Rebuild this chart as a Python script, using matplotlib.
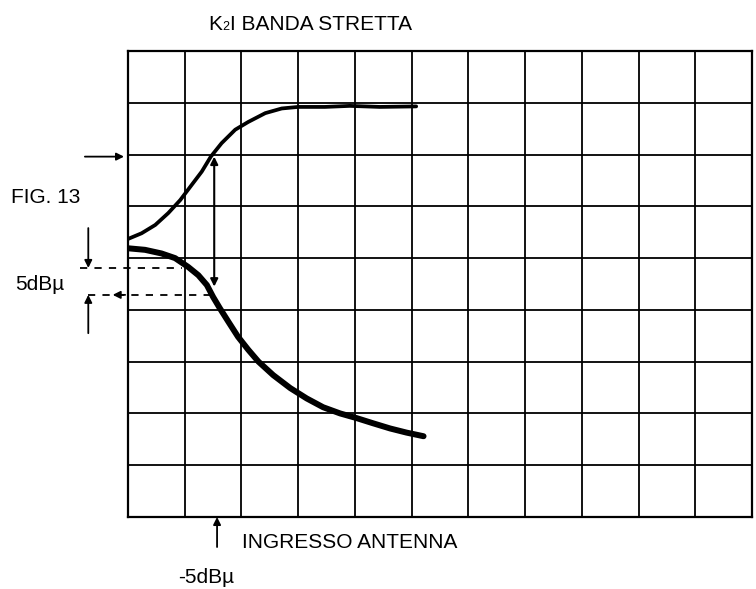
import matplotlib
matplotlib.use("Agg")
import matplotlib.pyplot as plt
from matplotlib.offsetbox import TextArea, HPacker, AnchoredOffsetbox

plt.rcParams['font.family'] = ['Liberation Sans', 'DejaVu Sans']

# ---- data (grid units: 11 columns x 9 rows) ----
n_cols = 11
n_rows = 9

upper_x = [0.0, 0.24, 0.48, 0.71, 0.92, 1.12, 1.30, 1.46, 1.65, 1.89, 2.12, 2.42, 2.71,
           3.00, 3.47, 3.91, 4.44, 5.08]
upper_y = [5.37, 5.48, 5.64, 5.87, 6.12, 6.41, 6.67, 6.96, 7.22, 7.48, 7.63, 7.80, 7.89,
           7.92, 7.92, 7.94, 7.92, 7.93]

lower_x = [0.0, 0.30, 0.59, 0.83, 1.06, 1.24, 1.39, 1.50, 1.62, 1.77, 1.94, 2.12, 2.30,
           2.56, 2.86, 3.15, 3.44, 3.74, 4.03, 4.32, 4.62, 4.91, 5.21]
lower_y = [5.19, 5.16, 5.09, 5.00, 4.83, 4.67, 4.48, 4.25, 4.03, 3.77, 3.48, 3.23, 3.00,
           2.74, 2.49, 2.29, 2.12, 2.00, 1.91, 1.81, 1.71, 1.63, 1.56]

ref_level_upper = 6.96      # right-pointing marker level
dash_level_1 = 4.81         # first dashed reference
dash_level_2 = 4.29         # second dashed reference
measure_x = 1.52            # vertical double arrow position
antenna_x = 1.57            # -5dBu input marker
side_x = -0.70              # x of the 5dBu bracket arrows

title_main = "I BANDA STRETTA"
fig_label = "FIG. 13"
step_label = "5dB\u00b5"
xlabel = "INGRESSO ANTENNA"
input_label = "-5dB\u00b5"

# ---- figure ----
W, H = 756, 589
fig = plt.figure(figsize=(W / 100, H / 100), dpi=100)
left_px, right_px, top_px, bottom_px = 128, 752, 51, 517
ax = fig.add_axes([left_px / W, 1 - bottom_px / H,
                   (right_px - left_px) / W, (bottom_px - top_px) / H])
ax.set_xlim(0, n_cols)
ax.set_ylim(0, n_rows)
ax.set_xticks([])
ax.set_yticks([])
for s in ax.spines.values():
    s.set_linewidth(1.6)
    s.set_color('black')

for i in range(1, n_cols):
    ax.axvline(i, color='black', lw=1.3, zorder=1)
for j in range(1, n_rows):
    ax.axhline(j, color='black', lw=1.3, zorder=1)

ax.plot(upper_x, upper_y, color='black', lw=2.7, solid_capstyle='round',
        solid_joinstyle='round', zorder=3)
ax.plot(lower_x, lower_y, color='black', lw=4.3, solid_capstyle='round',
        solid_joinstyle='round', zorder=3)

# dashed reference lines
ax.plot([-0.85, 0.95], [dash_level_1, dash_level_1], color='black', lw=1.3,
        ls=(0, (4, 4)), clip_on=False, zorder=2)
ax.plot([side_x, 1.45], [dash_level_2, dash_level_2], color='black', lw=1.3,
        ls=(0, (4, 4)), clip_on=False, zorder=2)

ap = dict(arrowstyle='-|>', color='black', lw=1.3, mutation_scale=11,
          shrinkA=0, shrinkB=0)
# right-pointing arrow at ref level
ax.annotate('', xy=(-0.07, ref_level_upper), xytext=(-0.76, ref_level_upper),
            arrowprops=ap, annotation_clip=False)
# 5dBu bracket arrows
ax.annotate('', xy=(side_x, dash_level_1), xytext=(side_x, 5.58),
            arrowprops=ap, annotation_clip=False)
ax.annotate('', xy=(side_x, dash_level_2), xytext=(side_x, 3.55),
            arrowprops=ap, annotation_clip=False)
ax.annotate('', xy=(-0.27, dash_level_2), xytext=(-0.05, dash_level_2),
            arrowprops=ap, annotation_clip=False)
# vertical double arrow between curves
ax.annotate('', xy=(measure_x, 4.45), xytext=(measure_x, ref_level_upper),
            arrowprops=dict(arrowstyle='<|-|>', color='black', lw=1.5,
                            mutation_scale=11, shrinkA=0, shrinkB=0),
            annotation_clip=False)
# input marker below the axis
ax.annotate('', xy=(antenna_x, 0.0), xytext=(antenna_x, -0.58),
            arrowprops=ap, annotation_clip=False)

# ---- texts ----
fs = 15
title_box = HPacker(children=[TextArea("K", textprops=dict(size=fs)),
                              TextArea("2", textprops=dict(size=9)),
                              TextArea(title_main, textprops=dict(size=fs))],
                    align="baseline", pad=0, sep=0)
anch = AnchoredOffsetbox(loc='center', child=title_box, pad=0, frameon=False,
                         bbox_to_anchor=(310 / W, 1 - 25 / H),
                         bbox_transform=fig.transFigure, borderpad=0)
fig.add_artist(anch)

fig.text(11 / W, 1 - 203 / H, fig_label, fontsize=fs, ha='left', va='baseline')
fig.text(15 / W, 1 - 290 / H, step_label, fontsize=fs, ha='left', va='baseline')
fig.text(242 / W, 1 - 548 / H, xlabel, fontsize=fs, ha='left', va='baseline')
fig.text(178 / W, 1 - 583 / H, input_label, fontsize=fs, ha='left', va='baseline')

fig.savefig("out.png", dpi=100)
